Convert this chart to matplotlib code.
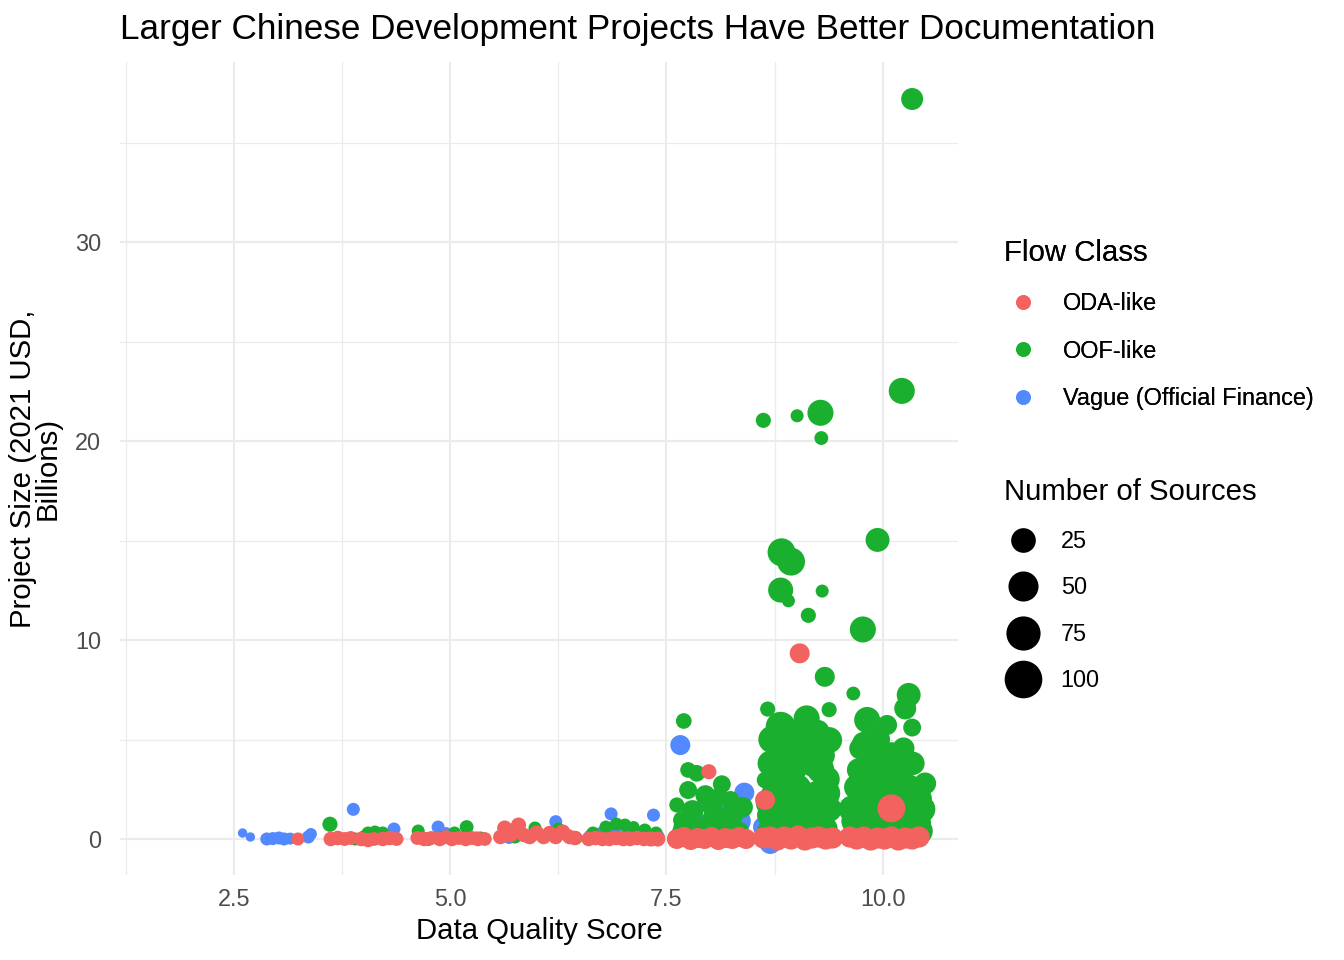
import matplotlib
matplotlib.use("Agg")
import matplotlib.pyplot as plt
import numpy as np
from matplotlib.lines import Line2D
from matplotlib.ticker import MultipleLocator

plt.rcParams['font.family'] = ['Liberation Sans', 'DejaVu Sans']

# Vague (Official Finance)
vague_score = [2.60, 2.69, 2.88, 2.95, 3.02, 3.08, 3.15, 3.36, 3.39,
               3.88, 4.35, 4.20,
               4.86, 4.95, 5.30,
               5.68, 6.22, 6.35, 5.90,
               6.86, 7.35, 6.62, 6.75, 6.90, 7.05, 7.20, 7.32, 7.40,
               7.66, 8.40, 8.33, 7.83, 7.95, 8.08, 8.20, 7.75, 7.62,
               8.78, 8.70, 8.62]
vague_size = [0.30, 0.10, 0.00, 0.02, 0.05, 0.00, 0.02, 0.10, 0.25,
              1.49, 0.50, 0.05,
              0.60, 0.30, 0.05,
              0.05, 0.87, 0.20, 0.10,
              1.26, 1.20, 0.15, 0.30, 0.35, 0.30, 0.30, 0.15, 0.10,
              4.72, 2.33, 0.90, 0.95, 1.80, 1.60, 0.30, 0.20, 0.10,
              2.29, -0.20, 0.60]
vague_sources = [1, 1, 3, 3, 3, 3, 2, 3, 2,
                 3, 3, 3,
                 3, 2, 3,
                 2, 3, 3, 3,
                 3, 3, 3, 3, 3, 3, 3, 4, 4,
                 18, 18, 38, 12, 8, 18, 25, 6, 8,
                 8, 25, 20]

# OOF-like
oof_score = [3.61, 3.90, 4.05, 4.13, 4.22, 4.00,
             4.63, 4.75, 5.19, 5.05, 4.90, 5.35,
             5.98, 6.25, 6.45, 5.75,
             6.80, 6.92, 7.02, 7.12, 7.25, 6.65, 7.38,
             7.70, 7.75, 7.85, 7.75, 7.62, 8.14, 8.03, 8.24, 8.02, 7.68, 7.90, 8.15, 8.35, 7.65, 8.10,
             7.80, 8.25, 7.95, 8.38, 7.70,
             8.62, 9.01, 9.28, 9.29, 8.83, 8.94, 8.82, 8.91, 9.30, 9.14,
             9.33, 8.67, 9.38, 9.12, 8.82, 9.38, 8.83, 9.08, 8.64, 8.74,
             8.70, 8.95, 9.20, 9.35, 8.75, 9.00, 9.25, 8.70, 8.95, 9.20,
             9.38, 8.85, 9.10, 9.32, 9.00, 9.25,
             8.80, 9.15, 8.90, 9.30, 9.28, 8.68, 8.92, 9.15, 9.35, 8.70, 9.25, 8.72,
             10.34, 10.22, 9.94, 9.77, 9.66, 10.30, 10.26, 10.34, 9.82, 10.05,
             9.74, 10.24, 10.49, 9.72,
             9.70, 9.95, 10.20, 10.40, 9.65, 9.90, 10.15, 10.35, 9.75, 10.00,
             10.25, 10.42, 9.85, 10.10, 9.95, 10.35, 10.05,
             9.80, 10.05, 10.30, 9.68, 9.90, 10.18, 10.40, 10.20, 9.78, 10.45, 10.30]
oof_size = [0.74, 0.00, 0.30, 0.35, 0.30, 0.10,
            0.40, 0.00, 0.60, 0.30, 0.05, 0.05,
            0.55, 0.50, 0.05, 0.10,
            0.60, 0.75, 0.70, 0.60, 0.45, 0.30, 0.30,
            5.93, 3.47, 3.30, 2.46, 1.71, 2.75, 1.60, 1.96, 0.95, 0.95, 0.50, 0.60, 0.40, 0.35, 2.10,
            1.40, 1.20, 2.20, 1.60, 0.60,
            21.04, 21.27, 21.42, 20.15, 14.41, 13.94, 12.51, 11.97, 12.46, 11.24,
            8.15, 6.53, 6.50, 6.06, 5.64, 4.97, 4.47, 4.63, 2.96, 2.99,
            3.80, 3.50, 3.80, 3.00, 2.20, 2.50, 2.20, 1.20, 1.30, 1.00,
            1.50, 0.50, 0.40, 0.50, 5.20, 5.40,
            3.00, 4.20, 4.00, 4.20, 3.50, 1.80, 0.90, 1.80, 2.30, 0.40, 0.90, 5.00,
            37.19, 22.52, 15.03, 10.53, 7.31, 7.24, 6.56, 5.60, 5.98, 5.73,
            4.55, 4.55, 2.79, 3.47,
            2.60, 2.80, 3.00, 2.00, 1.50, 1.60, 1.80, 1.20, 0.60, 0.50,
            0.60, 0.40, 4.00, 4.20, 5.00, 3.80, 3.40,
            3.20, 2.20, 2.50, 0.90, 0.90, 1.00, 0.80, 3.60, 4.80, 1.50, 0.30]
oof_sources = [6, 3, 3, 3, 3, 3,
               3, 4, 4, 3, 4, 3,
               3, 3, 4, 3,
               3, 3, 3, 2, 3, 3, 3,
               7, 7, 9, 12, 6, 12, 18, 12, 18, 12, 18, 25, 12, 6, 12,
               25, 30, 18, 20, 20,
               6, 3, 43, 4, 53, 53, 38, 3, 3, 6,
               18, 6, 6, 43, 65, 43, 38, 53, 9, 9,
               40, 60, 50, 45, 50, 70, 60, 45, 80, 70,
               40, 60, 70, 50, 50, 30,
               70, 60, 60, 40, 50, 40, 70, 80, 50, 40, 60, 50,
               25, 43, 33, 43, 4, 33, 25, 12, 43, 18,
               25, 25, 25, 30,
               40, 60, 50, 60, 50, 80, 70, 60, 60, 70,
               60, 50, 40, 45, 30, 30, 50,
               60, 80, 60, 50, 80, 80, 50, 40, 30, 50, 50]

# ODA-like
oda_score = [3.24,
             3.62, 3.70, 3.78, 3.85, 3.97, 4.05, 4.12, 4.22, 4.30, 4.38,
             4.62, 4.70, 4.78, 4.88, 4.95, 5.02, 5.10, 5.18, 5.25, 5.32, 5.40,
             5.58, 5.63, 5.70, 5.79, 5.85, 5.92, 6.00, 6.08, 6.15, 6.22, 6.30, 6.38, 6.44,
             6.60, 6.68, 6.76, 6.84, 6.92, 7.00, 7.08, 7.16, 7.24, 7.32, 7.40,
             7.99, 7.62, 7.70, 7.78, 7.86, 7.94, 8.02, 8.10, 8.18, 8.26, 8.34, 8.42,
             8.64, 9.04, 8.62, 8.70, 8.78, 8.86, 8.94, 9.02, 9.10, 9.18, 9.26, 9.34, 9.42,
             10.10, 9.62, 9.70, 9.78, 9.86, 9.94, 10.02, 10.10, 10.18, 10.26, 10.34, 10.42]
oda_size = [0.00,
            0.00, 0.05, 0.00, 0.05, 0.00, -0.05, 0.00, 0.00, 0.05, 0.00,
            0.05, 0.00, 0.05, 0.00, 0.10, 0.00, 0.05, 0.00, 0.05, 0.00, 0.00,
            0.10, 0.55, 0.20, 0.70, 0.20, 0.10, 0.30, 0.10, 0.30, 0.10, 0.35, 0.10, 0.05,
            0.00, 0.05, 0.00, 0.00, 0.05, 0.00, 0.00, 0.05, 0.00, 0.00, 0.00,
            3.38, 0.00, 0.10, -0.05, 0.05, 0.00, 0.10, -0.05, 0.05, 0.00, 0.10, 0.00,
            1.96, 9.33, 0.05, 0.10, -0.05, 0.10, 0.00, 0.15, -0.05, 0.05, 0.10, 0.00, 0.05,
            1.54, 0.10, 0.00, 0.10, -0.05, 0.05, 0.00, 0.10, -0.05, 0.05, 0.00, 0.10]
oda_sources = [3,
               5, 5, 4, 4, 5, 5, 4, 5, 5, 4,
               4, 5, 4, 5, 4, 5, 4, 5, 4, 5, 4,
               5, 6, 5, 6, 5, 5, 6, 5, 5, 5, 6, 5, 5,
               5, 5, 5, 5, 5, 5, 5, 5, 5, 6, 6,
               6, 18, 18, 18, 18, 18, 18, 18, 18, 18, 18, 18,
               18, 18, 22, 22, 22, 22, 22, 22, 22, 22, 22, 22, 22,
               53, 22, 22, 22, 22, 22, 22, 22, 22, 22, 22, 22]

classes = ["ODA-like", "OOF-like", "Vague (Official Finance)"]
colors = {"ODA-like": "#F2625E", "OOF-like": "#1AAF2F", "Vague (Official Finance)": "#5289FF"}
size_breaks = [25, 50, 75, 100]


def marker_pt(n):
    # diameter in points, fitted to the legend circles
    d_px = 9.4 + 2.57 * np.sqrt(np.asarray(n, dtype=float) - 1)
    return d_px * 72 / 192


fig = plt.figure(figsize=(7, 5), dpi=192)
ax = fig.add_axes([120 / 1344, 1 - 875 / 960, (958 - 120) / 1344, (875 - 62) / 960])

groups = [("Vague (Official Finance)", vague_score, vague_size, vague_sources),
          ("OOF-like", oof_score, oof_size, oof_sources),
          ("ODA-like", oda_score, oda_size, oda_sources)]
for name, xs, ys, ns in groups:
    ax.scatter(xs, ys, s=marker_pt(ns) ** 2, color=colors[name], linewidths=0, zorder=3)

ax.set_xlim(1.183, 10.87)
ax.set_ylim(-1.81, 39.05)
ax.xaxis.set_major_locator(MultipleLocator(2.5))
ax.xaxis.set_minor_locator(MultipleLocator(1.25))
ax.yaxis.set_major_locator(MultipleLocator(10))
ax.yaxis.set_minor_locator(MultipleLocator(5))
ax.set_xticks([2.5, 5.0, 7.5, 10.0])
ax.set_xticklabels(["2.5", "5.0", "7.5", "10.0"])
ax.grid(which='major', color='#EBEBEB', linewidth=0.8, zorder=0)
ax.grid(which='minor', color='#EBEBEB', linewidth=0.45, zorder=0)
ax.set_axisbelow(True)
for sp in ax.spines.values():
    sp.set_visible(False)
ax.tick_params(which='both', length=0, labelsize=8.8, labelcolor='#4D4D4D')
ax.tick_params(axis='x', pad=5)
ax.tick_params(axis='y', pad=7)

ax.set_xlabel("Data Quality Score", fontsize=11, labelpad=2)
ax.set_ylabel("Project Size (2021 USD,\nBillions)", fontsize=11, labelpad=5, linespacing=0.85)
fig.text(120 / 1344, 1 - 29 / 960, "Larger Chinese Development Projects Have Better Documentation",
         fontsize=13.2, ha='left', va='center')

# legends
flow_handles = [Line2D([], [], marker='o', linestyle='', color=colors[c], markersize=4.5) for c in classes]
leg1 = fig.legend(flow_handles, classes, title="Flow Class", loc='upper left',
                  bbox_to_anchor=(995 / 1344, 1 - 230 / 960), frameon=False,
                  fontsize=8.8, title_fontsize=11, alignment='left',
                  handletextpad=0.9, labelspacing=1.05, handlelength=1.6, borderaxespad=0)
size_handles = [Line2D([], [], marker='o', linestyle='', color='black', markersize=marker_pt(n)) for n in size_breaks]
leg2 = fig.legend(size_handles, [str(n) for n in size_breaks], title="Number of Sources", loc='upper left',
                  bbox_to_anchor=(995 / 1344, 1 - 469 / 960), frameon=False,
                  fontsize=8.8, title_fontsize=11, alignment='left',
                  handletextpad=0.8, labelspacing=1.0, handlelength=1.6, borderaxespad=0)
fig.add_artist(leg1)

fig.savefig("out.png", dpi=192)
